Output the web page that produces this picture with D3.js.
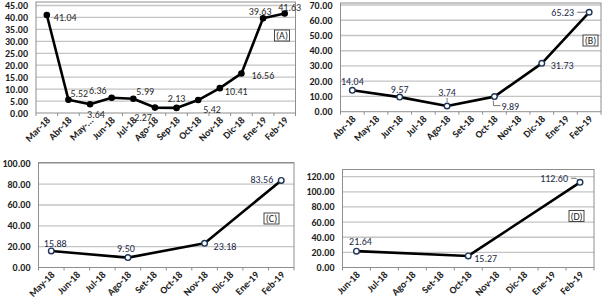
<!DOCTYPE html>
<html>
<head>
<meta charset="utf-8">
<script src="https://cdn.jsdelivr.net/npm/d3@7"></script>
<style>
	body { margin: 0; background: #fff; }
	svg text { font-family: Carlito, 'Liberation Sans Narrow', 'Arial Narrow', 'DejaVu Sans Condensed', sans-serif; }
	.tick-lbl { font-size: 10px; font-weight: bold; fill: #1e1e1e; }
	.val-lbl { font-size: 10px; }
</style>
</head>
<body>
<div id="root"></div>
<script>
// categories and values
const cats_a	= ['Mar-18', 'Abr-18', 'May-...', 'Jun-18', 'Jul-18', 'Ago-18', 'Sep-18', 'Oct-18', 'Nov-18', 'Dic-18', 'Ene-19', 'Feb-19'];
const vals_a	= [41.04, 5.52, 3.64, 6.36, 5.99, 2.27, 2.13, 5.42, 10.41, 16.56, 39.63, 41.63];

const cats_b	= ['Abr-18', 'May-18', 'Jun-18', 'Jul-18', 'Ago-18', 'Set-18', 'Oct-18', 'Nov-18', 'Dic-18', 'Ene-19', 'Feb-19'];
const pts_b		= ['Abr-18', 'Jun-18', 'Ago-18', 'Oct-18', 'Dic-18', 'Feb-19'];
const vals_b	= [14.04, 9.57, 3.74, 9.89, 31.73, 65.23];

const cats_c	= ['May-18', 'Jun-18', 'Jul-18', 'Ago-18', 'Set-18', 'Oct-18', 'Nov-18', 'Dic-18', 'Ene-19', 'Feb-19'];
const pts_c		= ['May-18', 'Ago-18', 'Nov-18', 'Feb-19'];
const vals_c	= [15.88, 9.50, 23.18, 83.56];

const cats_d	= ['Jun-18', 'Jul-18', 'Ago-18', 'Set-18', 'Oct-18', 'Nov-18', 'Dic-18', 'Ene-19', 'Feb-19'];
const pts_d		= ['Jun-18', 'Oct-18', 'Feb-19'];
const vals_d	= [21.64, 15.27, 112.60];

const ticks_a	= [0, 5, 10, 15, 20, 25, 30, 35, 40, 45];
const ticks_b	= [0, 10, 20, 30, 40, 50, 60, 70];
const ticks_c	= [0, 20, 40, 60, 80, 100];
const ticks_d	= [0, 20, 40, 60, 80, 100, 120];

// where each value label sits relative to its point: [dx, dy, anchor, leader]
const lbl_a	= [[7, 3, 'start'], [2, -6, 'start'], [-3, 10, 'start'], [-5, -7, 'end'], [3, -7, 'start'], [-3, 10, 'end'], [0, -9, 'middle'], [5, 9, 'start'], [5, 3, 'start'], [10, 2, 'start'], [-3, -7, 'middle'], [5, -6, 'middle']];
const lbl_b	= [[0, -9, 'middle'], [0, -8, 'middle'], [0, -13, 'middle', 'up'], [7, 10, 'start', 'down'], [9, 2, 'start'], [-15, 0, 'end', 'side']];
const lbl_c	= [[4, -7, 'middle'], [-2, -9, 'middle'], [9, 3, 'start'], [-8, -1, 'end']];
const lbl_d	= [[4, -10, 'middle'], [6, 3, 'start'], [-12, -4, 'end', 'side']];

const panels	= [
	{ cats: cats_a, pts: cats_a, vals: vals_a, ticks: ticks_a, lbl: lbl_a, tag: '(A)', left: 36, right: 295.5, top: 2, y0: 113, ymax: 45, ytop: 5.5, filled: true, tagX: 282, tagY: 35.5 },
	{ cats: cats_b, pts: pts_b, vals: vals_b, ticks: ticks_b, lbl: lbl_b, tag: '(B)', left: 340.5, right: 601, top: 3, y0: 111.7, ymax: 70, ytop: 5, filled: false, tagX: 590.5, tagY: 40.5 },
	{ cats: cats_c, pts: pts_c, vals: vals_c, ticks: ticks_c, lbl: lbl_c, tag: '(C)', left: 38.5, right: 294, top: 162.5, y0: 267.5, ymax: 100, ytop: 163.3, filled: false, tagX: 271.5, tagY: 218.5 },
	{ cats: cats_d, pts: pts_d, vals: vals_d, ticks: ticks_d, lbl: lbl_d, tag: '(D)', left: 342.5, right: 594, top: 169.5, y0: 267.5, ymax: 120, ytop: 176.7, filled: false, tagX: 576.5, tagY: 216 },
];

const svg	= d3.select('#root').append('svg')
	.attr('width', 605)
	.attr('height', 306);

panels.forEach((p) => drawPanel(p));

function drawPanel(p) {
	let x	= d3.scaleBand().domain(p.cats).range([p.left, p.right]);
	let y	= d3.scaleLinear().domain([0, p.ymax]).range([p.y0, p.ytop]);
	let g	= svg.append('g');

	// gridlines
	g.selectAll('.grid')
		.data(p.ticks.filter((t) => t > 0)).enter().append('line')
		.attr('x1', p.left).attr('x2', p.right)
		.attr('y1', (t) => y(t)).attr('y2', (t) => y(t))
		.attr('stroke', '#c4c4c4')
		.attr('stroke-width', 1.3);

	// frame
	g.append('rect')
		.attr('x', p.left).attr('y', p.top)
		.attr('width', p.right - p.left).attr('height', p.y0 - p.top)
		.attr('fill', 'none')
		.attr('stroke', '#8e8e8e')
		.attr('stroke-width', 1);

	// y axis labels
	g.selectAll('.ylbl')
		.data(p.ticks).enter().append('text')
		.attr('class', 'tick-lbl')
		.attr('x', p.left - 8)
		.attr('y', (t) => y(t) + 3.5)
		.attr('text-anchor', 'end')
		.text((t) => t.toFixed(2));

	// x axis ticks
	let bounds	= p.cats.map((c) => x(c)).concat([p.right]);
	g.selectAll('.xtick')
		.data(bounds).enter().append('line')
		.attr('x1', (d) => d).attr('x2', (d) => d)
		.attr('y1', p.y0).attr('y2', p.y0 + 3)
		.attr('stroke', '#8e8e8e');

	g.selectAll('.xlbl')
		.data(p.cats).enter().append('text')
		.attr('class', 'tick-lbl')
		.attr('text-anchor', 'end')
		.attr('transform', (c) => 'translate(' + (x(c) + x.bandwidth() / 2 + 4) + ',' + (p.y0 + 8) + ') rotate(-45)')
		.text((c) => c);

	let data	= p.pts.map((c, i) => ({ cat: c, val: p.vals[i], lbl: p.lbl[i] }));
	let cx		= (d) => x(d.cat) + x.bandwidth() / 2;

	g.append('path')
		.datum(data)
		.attr('fill', 'none')
		.attr('stroke', '#000')
		.attr('stroke-width', 2.6)
		.attr('stroke-linejoin', 'round')
		.attr('d', d3.line().x(cx).y((d) => y(d.val)));

	// leader lines for labels pushed away from their point
	data.filter((d) => d.lbl[3]).forEach((d) => {
		let px	= cx(d), py = y(d.val);
		let pts;
		if (d.lbl[3] == 'side') pts = [[px + d.lbl[0] + 3, py + d.lbl[1]], [px - 4, py + d.lbl[1]], [px - 2, py - 2]];
		else if (d.lbl[3] == 'up') pts = [[px, py + d.lbl[1] + 5], [px, py - 4]];
		else pts = [[px - 1, py + 4], [px - 1, py + 9], [px + d.lbl[0] - 1, py + 9]];
		g.append('path')
			.attr('d', d3.line()(pts))
			.attr('fill', 'none')
			.attr('stroke', '#555')
			.attr('stroke-width', 0.8);
	});

	g.selectAll('.pt')
		.data(data).enter().append('circle')
		.attr('cx', cx)
		.attr('cy', (d) => y(d.val))
		.attr('r', p.filled ? 2.6 : 2.8)
		.attr('fill', p.filled ? '#000' : '#fff')
		.attr('stroke', p.filled ? '#000' : '#1f3558')
		.attr('stroke-width', 1.4);

	g.selectAll('.val')
		.data(data).enter().append('text')
		.attr('class', 'val-lbl')
		.attr('x', (d) => cx(d) + d.lbl[0])
		.attr('y', (d) => y(d.val) + d.lbl[1] + 3.5)
		.attr('text-anchor', (d) => d.lbl[2])
		.attr('fill', p.filled ? '#2a2a2a' : '#1c2a47')
		.text((d) => d.val.toFixed(2));

	// tag box
	let tag	= g.append('g').attr('transform', 'translate(' + p.tagX + ',' + p.tagY + ')');
	tag.append('rect')
		.attr('x', -7.5).attr('y', -5.5)
		.attr('width', 15).attr('height', 11)
		.attr('fill', '#fff')
		.attr('stroke', '#333')
		.attr('stroke-width', 0.9);
	tag.append('text')
		.attr('class', 'val-lbl')
		.attr('text-anchor', 'middle')
		.attr('y', 3.5)
		.attr('fill', '#222')
		.text(p.tag);
}
</script>
</body>
</html>
